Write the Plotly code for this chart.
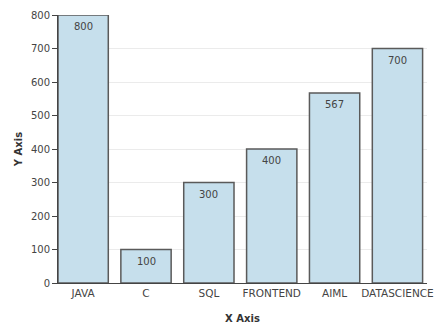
import plotly.graph_objects as go

categories = ["JAVA", "C", "SQL", "FRONTEND", "AIML", "DATASCIENCE"]
values = [800, 100, 300, 400, 567, 700]
y_ticks = [0, 100, 200, 300, 400, 500, 600, 700, 800]

FONT = "DejaVu Sans, Verdana, sans-serif"
TXT = "#444444"

fig = go.Figure(
    go.Bar(
        x=categories,
        y=values,
        marker=dict(color="#c6dfec", line=dict(color="#5a5a5a", width=1.5)),
        cliponaxis=False,
    )
)

for c, v in zip(categories, values):
    fig.add_annotation(
        x=c, y=v, text=str(v), showarrow=False,
        yanchor="top", yshift=-4,
        font=dict(family=FONT, size=10, color=TXT),
    )

fig.update_layout(
    width=436,
    height=327,
    margin=dict(l=58, r=3, t=15, b=44),
    paper_bgcolor="white",
    plot_bgcolor="white",
    bargap=0.2,
    showlegend=False,
    font=dict(family=FONT, size=10, color=TXT),
)

fig.update_xaxes(
    range=[-0.4, 5.47],
    showline=True,
    linecolor="#444444",
    linewidth=1,
    ticks="",
    showgrid=False,
    tickfont=dict(family=FONT, size=10.5, color=TXT),
    title=dict(text="<b>X Axis</b>", font=dict(family=FONT, size=10, color="#333333"), standoff=17),
)

fig.update_yaxes(
    range=[0, 800],
    tickvals=y_ticks,
    showline=True,
    linecolor="#444444",
    linewidth=1,
    ticks="outside",
    ticklen=5,
    tickcolor="#444444",
    showgrid=True,
    gridcolor="#ebebeb",
    zeroline=False,
    tickfont=dict(family=FONT, size=10, color=TXT),
    title=dict(text="<b>Y Axis</b>", font=dict(family=FONT, size=10, color="#333333"), standoff=6),
)

fig.write_html("out.html")
